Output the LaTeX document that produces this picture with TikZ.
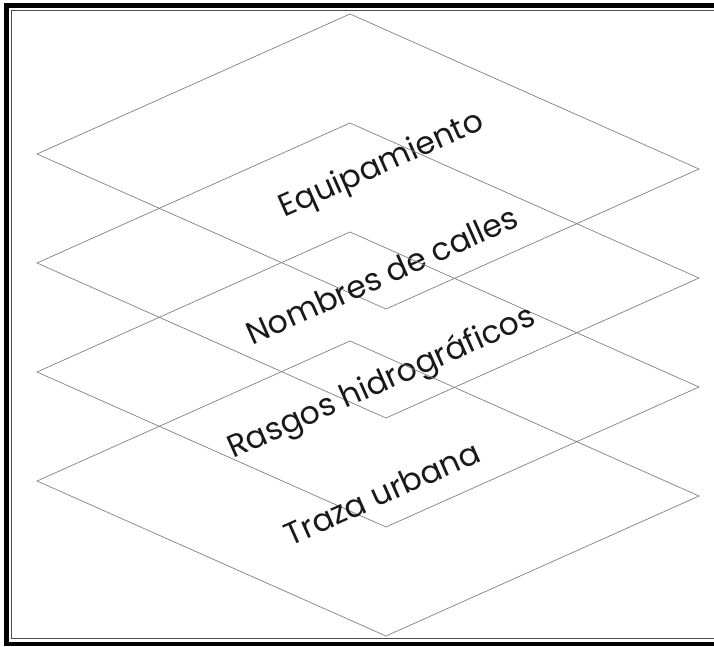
\documentclass[tikz,border=0pt]{standalone}
\usepackage{fontspec}
\setmainfont{Poppins}
\usepackage{tikz}
\usetikzlibrary{positioning}

\begin{document}
\begin{tikzpicture}[x=1pt, y=-1pt,
            % --- Styles for the layers ---
            layer/.style={draw=black!50, line width=0.7pt, line join=miter},
            layerlabel/.style={font=\fontsize{31.5}{36}\selectfont, rotate=24, text=black!90, inner sep=0pt},
            frameouter/.style={draw=black, line width=4.5pt},
            frameinner/.style={draw=black!70, line width=1pt}
        ]

        % --- Page size ---
        \useasboundingbox (0,0) rectangle (714,647);
        \clip (0,0) rectangle (714,647);

        % --- Double frame ---
        \draw[frameouter] (6.5,5.3) rectangle (740,644);
        \draw[frameinner] (11.7,10.2) rectangle (734,638);

        % --- Draw the four layers using a loop ---
        \foreach \name/\txt [count=\i from 0] in {equip/Equipamiento, calles/Nombres de calles, rasgos/Rasgos hidrográficos, traza/Traza urbana} {
            \coordinate (\name-top)    at (350, 14+109*\i);
            \coordinate (\name-left)   at (37, 154+109*\i);
            \coordinate (\name-right)  at (699, 169+109*\i);
            \coordinate (\name-bottom) at (386, 309+109*\i);
            \draw[layer] (\name-top) -- (\name-right) -- (\name-bottom) -- (\name-left) -- cycle;
            \node[layerlabel] (\name-label) at (382, 166+109*\i) {\txt};
        }

        \end{tikzpicture}
\end{document}
